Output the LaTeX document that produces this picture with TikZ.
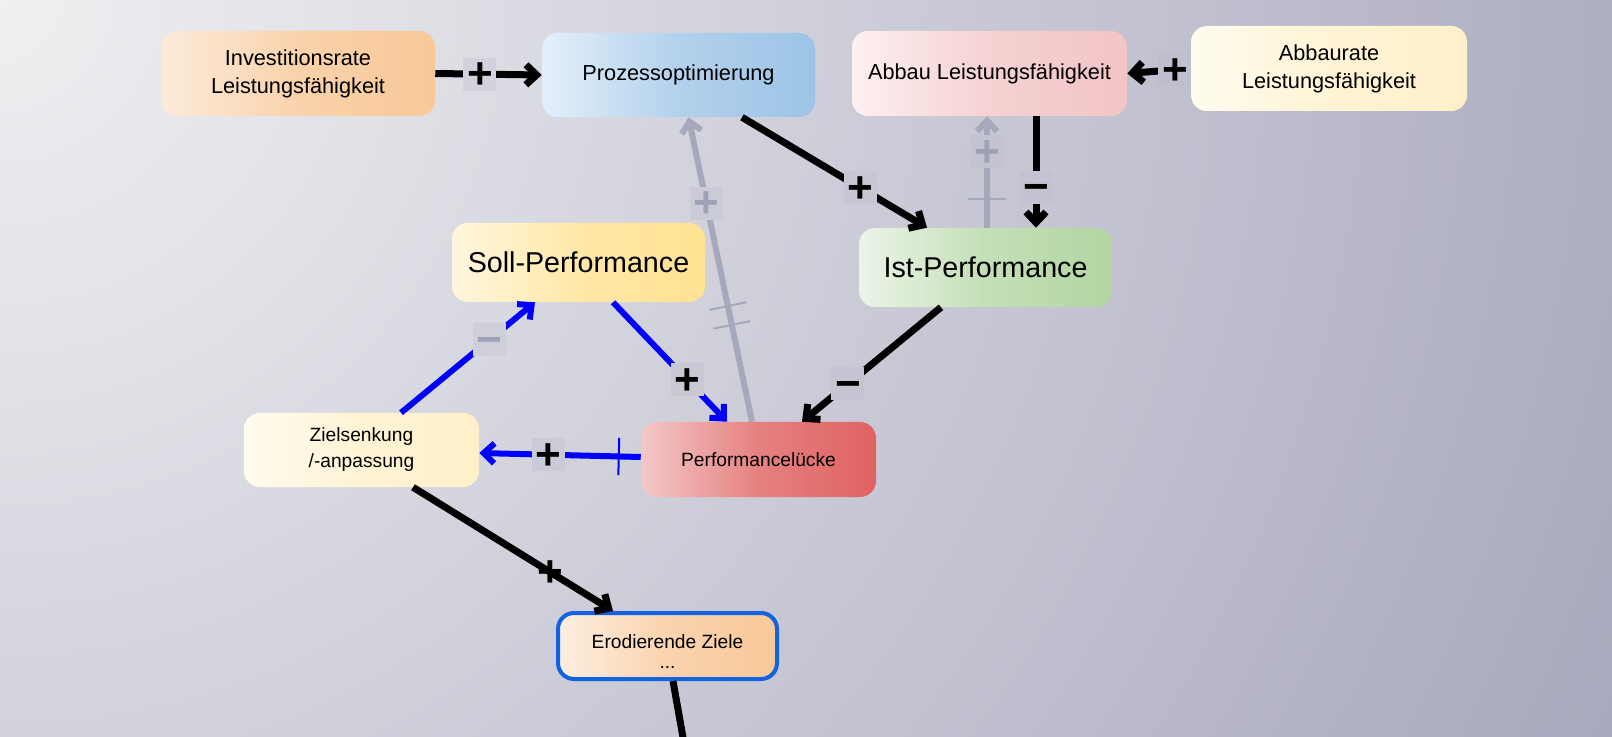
\documentclass[tikz,border=0pt]{standalone}
\usepackage{fontspec}
\setmainfont{Liberation Sans}
\usetikzlibrary{arrows.meta,calc}
\pgfdeclareradialshading{bgshade}{\pgfpoint{0bp}{0bp}}{rgb(0bp)=(0.941,0.941,0.949); rgb(25bp)=(0.659,0.659,0.745); rgb(50bp)=(0.659,0.659,0.745)}
\definecolor{invL}{RGB}{253,235,218}\definecolor{invR}{RGB}{248,200,152}
\definecolor{proL}{RGB}{228,239,250}\definecolor{proR}{RGB}{157,196,230}
\definecolor{abbL}{RGB}{253,240,240}\definecolor{abbR}{RGB}{242,196,198}
\definecolor{abrL}{RGB}{255,252,238}\definecolor{abrR}{RGB}{255,240,202}
\definecolor{sollL}{RGB}{255,246,222}\definecolor{sollR}{RGB}{255,226,145}
\definecolor{istL}{RGB}{236,244,232}\definecolor{istR}{RGB}{178,214,162}
\definecolor{zielL}{RGB}{255,251,238}\definecolor{zielR}{RGB}{255,240,202}
\definecolor{perfL}{RGB}{244,200,200}\definecolor{perfR}{RGB}{224,98,98}
\definecolor{eroL}{RGB}{253,238,225}\definecolor{eroR}{RGB}{248,200,152}
\definecolor{eroB}{RGB}{18,98,226}
\definecolor{lnk}{RGB}{0,0,255}
\definecolor{gry}{RGB}{168,168,188}
\definecolor{grytxt}{RGB}{160,160,182}
\begin{document}
\begin{tikzpicture}[x=0.75pt,y=-0.75pt,
  >={Straight Barb[length=8pt,width=15pt]},
  box/.style={rounded corners=12pt, inner sep=2pt, align=center, text=black},
  med/.style={font=\fontsize{16.3}{21}\selectfont},
  sm/.style={font=\fontsize{14.4}{19.5}\selectfont},
  big/.style={font=\fontsize{21.5}{26}\selectfont},
  blk/.style={draw=black, line width=5.25pt, ->},
  blu/.style={draw=lnk, line width=4.5pt, ->},
  gln/.style={draw=gry, line width=4.5pt, ->},
  lab/.style={rectangle, minimum size=24.75pt, inner sep=0pt, text height=21.5pt, text depth=0pt, font=\fontsize{33}{33}\selectfont\bfseries},
  dmark/.style={rectangle, sloped, fill=#1, inner sep=0pt, minimum width=1.5pt, minimum height=28pt}
]
\clip (0,0) rectangle (1612,737);
\shade[shading=bgshade] (0,0) circle (1772);

% nodes
\node[box, med, left color=invL, right color=invR, middle color=invR!70!invL, minimum width=205.5pt, minimum height=63.75pt] (inv) at (298,73.5) {Investitionsrate\\Leistungsfähigkeit};
\node[box, med, left color=proL, right color=proR, middle color=proR!70!proL, minimum width=204.75pt, minimum height=63pt] (pro) at (678.5,75) {Prozessoptimierung};
\node[box, med, left color=abbL, right color=abbR, middle color=abbR!70!abbL, minimum width=206.25pt, minimum height=63.75pt] (abb) at (989.5,73.5) {Abbau Leistungsfähigkeit};
\node[box, med, left color=abrL, right color=abrR, middle color=abrR!70!abrL, minimum width=207pt, minimum height=63.75pt] (abr) at (1329,68.5) {Abbaurate\\Leistungsfähigkeit};
\node[box, big, left color=sollL, right color=sollR, middle color=sollR!70!sollL, minimum width=189.75pt, minimum height=59.25pt] (soll) at (578.5,262.5) {Soll-Performance};
\node[box, big, left color=istL, right color=istR, middle color=istR!70!istL, minimum width=189.75pt, minimum height=59.25pt] (ist) at (985.5,267.5) {Ist-Performance};
\node[box, sm, left color=zielL, right color=zielR, middle color=zielR!70!zielL, minimum width=176.25pt, minimum height=55.5pt] (ziel) at (361.5,450) {Zielsenkung\\/-anpassung};
\node[box, sm, left color=perfL, right color=perfR, middle color=perfR!70!perfL, minimum width=176.25pt, minimum height=56.25pt] (perf) at (758.5,459.5) {Performancelücke};
\node[box, left color=eroL, right color=eroR, middle color=eroR!70!eroL, draw=eroB, line width=3pt, minimum width=164.25pt, minimum height=49.5pt] (ero) at (667.5,646) {};
\node[align=center, font=\fontsize{14.4}{15}\selectfont, inner sep=0pt] (erotxt) at ($(ero.center)+(0,6)$) {Erodierende Ziele\\...};
\coordinate (exit) at (687,760);

% gray connectors
\draw[gln] ($(ist.north)+(1.5,0)$) -- node[pos=0.26, dmark=gry]{}
  node[pos=0.68, lab, text=grytxt, fill={rgb,255:red,195;green,195;blue,209}]{+} ($(abb.south)+(-2.5,0)$);
\draw[gln] ($(perf.north)+(-6.5,0)$) -- node[pos=0.318, dmark=gry]{} node[pos=0.38, dmark=gry]{}
  node[pos=0.718, lab, text=grytxt, fill={rgb,255:red,203;green,203;blue,215}]{+} ($(pro.south)+(10,0)$);

% black connectors
\draw[blk] (inv.east) -- node[pos=0.42, lab, fill={rgb,255:red,210;green,210;blue,220}]{+} (pro.west);
\draw[blk] (abr.west) -- node[pos=0.25, lab, fill={rgb,255:red,190;green,190;blue,205}]{+} (abb.east);
\draw[blk] ($(pro.south)+(63.5,0)$) -- node[pos=0.64, lab, fill={rgb,255:red,199;green,199;blue,211}]{+} ($(ist.north)+(-58.5,0)$);
\draw[blk] ($(abb.south)+(46.5,0)$) -- node[pos=0.64, lab, fill={rgb,255:red,194;green,194;blue,208}]{\char"2212} ($(ist.north)+(50.5,0)$);
\draw[blk] ($(ist.south)+(-44.5,0)$) -- node[pos=0.67, lab, fill={rgb,255:red,197;green,197;blue,210}]{\char"2212} ($(perf.north)+(43.5,0)$);
\draw[blk] ($(ziel.south)+(51.5,0)$) -- node[pos=0.685, lab, fill=none]{+} ($(ero.north)+(-54.5,0)$);
\draw[draw=black, line width=5.25pt] ($(ero.south)+(5.5,0)$) -- (exit);

% blue connectors
\draw[blu] ($(soll.south)+(34.5,0)$) -- node[pos=0.65, lab, fill={rgb,255:red,201;green,201;blue,213}]{+} ($(perf.north)+(-31.5,0)$);
\draw[blu] ($(ziel.north)+(39.5,0)$) -- node[pos=0.66, lab, text=grytxt, fill={rgb,255:red,207;green,207;blue,217}]{\char"2212} ($(soll.south)+(-43.5,0)$);
\draw[blu] ($(perf.west)+(0,-2.5)$) -- node[pos=0.136, dmark=lnk]{}
  node[pos=0.57, lab, fill={rgb,255:red,203;green,203;blue,215}]{+} ($(ziel.east)+(0,3)$);
\end{tikzpicture}
\end{document}
